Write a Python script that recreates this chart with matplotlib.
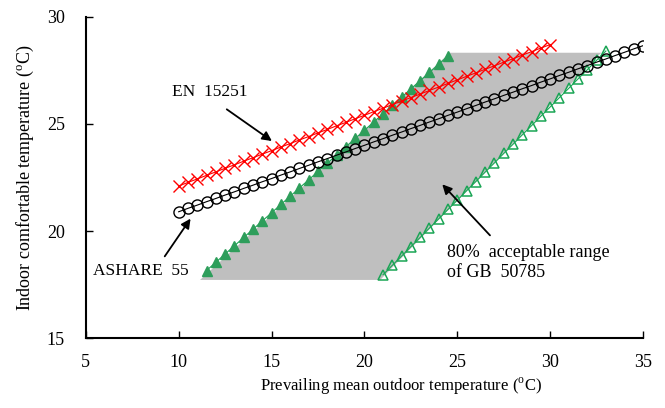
import matplotlib
matplotlib.use('Agg')
import matplotlib.pyplot as plt
from matplotlib.patches import Polygon

plt.rcParams['font.family'] = ['Liberation Serif', 'DejaVu Serif']
plt.rcParams['mathtext.fontset'] = 'custom'
plt.rcParams['mathtext.rm'] = 'Liberation Serif'

# ASHRAE 55 (open circles)
ashrae_x = [10, 10.5, 11, 11.5, 12, 12.5, 13, 13.5, 14, 14.5, 15, 15.5, 16, 16.5, 17, 17.5,
            18, 18.5, 19, 19.5, 20, 20.5, 21, 21.5, 22, 22.5, 23, 23.5, 24, 24.5, 25, 25.5,
            26, 26.5, 27, 27.5, 28, 28.5, 29, 29.5, 30, 30.5, 31, 31.5, 32, 32.5, 33, 33.5,
            34, 34.5, 35]
ashrae_y = [20.90, 21.06, 21.21, 21.37, 21.52, 21.68, 21.83, 21.99, 22.14, 22.30, 22.45, 22.61,
            22.76, 22.92, 23.07, 23.23, 23.38, 23.54, 23.69, 23.85, 24.00, 24.16, 24.31, 24.47,
            24.62, 24.78, 24.93, 25.09, 25.24, 25.40, 25.55, 25.71, 25.86, 26.02, 26.17, 26.33,
            26.48, 26.64, 26.79, 26.95, 27.10, 27.26, 27.41, 27.57, 27.72, 27.88, 28.03, 28.19,
            28.34, 28.50, 28.65]

# EN 15251 (red crosses)
en_x = [10, 10.5, 11, 11.5, 12, 12.5, 13, 13.5, 14, 14.5, 15, 15.5, 16, 16.5, 17, 17.5,
        18, 18.5, 19, 19.5, 20, 20.5, 21, 21.5, 22, 22.5, 23, 23.5, 24, 24.5, 25, 25.5,
        26, 26.5, 27, 27.5, 28, 28.5, 29, 29.5, 30]
en_y = [22.10, 22.27, 22.43, 22.60, 22.76, 22.93, 23.09, 23.26, 23.42, 23.59, 23.75, 23.92,
        24.08, 24.25, 24.41, 24.58, 24.74, 24.91, 25.07, 25.24, 25.40, 25.57, 25.73, 25.90,
        26.06, 26.23, 26.39, 26.56, 26.72, 26.89, 27.05, 27.22, 27.38, 27.55, 27.71, 27.88,
        28.04, 28.21, 28.37, 28.54, 28.70]

# GB 50785 limits
gb_up_x = [11.5, 12, 12.5, 13, 13.5, 14, 14.5, 15, 15.5, 16, 16.5, 17, 17.5, 18, 18.5,
           19, 19.5, 20, 20.5, 21, 21.5, 22, 22.5, 23, 23.5, 24, 24.5]
gb_up_y = [18.16, 18.54, 18.93, 19.31, 19.70, 20.08, 20.47, 20.85, 21.24, 21.62, 22.01, 22.39,
           22.78, 23.16, 23.55, 23.93, 24.32, 24.70, 25.09, 25.47, 25.86, 26.24, 26.63, 27.01,
           27.40, 27.78, 28.17]
gb_lo_x = [21, 21.5, 22, 22.5, 23, 23.5, 24, 24.5, 25, 25.5, 26, 26.5, 27, 27.5, 28, 28.5,
           29, 29.5, 30, 30.5, 31, 31.5, 32, 32.5, 33]
gb_lo_y = [17.96, 18.40, 18.83, 19.27, 19.70, 20.14, 20.57, 21.01, 21.44, 21.88, 22.31, 22.75,
           23.18, 23.62, 24.05, 24.49, 24.92, 25.36, 25.79, 26.23, 26.66, 27.10, 27.53, 27.97,
           28.40]

# shaded acceptable range corners
range_x = [11.15, 20.85, 32.75, 24.6]
range_y = [17.72, 17.72, 28.32, 28.32]

fig = plt.figure(figsize=(6.65, 4.08), dpi=100)
ax = fig.add_axes([0.129, 0.171, 0.838, 0.788])

ax.add_patch(Polygon(list(zip(range_x, range_y)), closed=True, facecolor='#bfbfbf',
                     edgecolor='none', zorder=1))

green = '#1aa555'
ax.plot(gb_up_x, gb_up_y, color=green, lw=0.8, marker='^', ms=7,
        mfc='#2e9e5b', mec='#2e9e5b', zorder=3)
ax.plot(gb_lo_x, gb_lo_y, color=green, lw=0.8, marker='^', ms=7,
        mfc='none', mec=green, mew=1.1, zorder=3)
ax.plot(en_x, en_y, color='red', lw=0.8, marker='x', ms=8.5, mew=1.0, zorder=4)
ax.plot(ashrae_x, ashrae_y, color='black', lw=0.8, marker='o', ms=8,
        mfc='none', mec='black', mew=1.0, zorder=4)

ax.set_xlim(5, 35)
ax.set_ylim(15, 30)
ax.set_xticks([5, 10, 15, 20, 25, 30, 35])
ax.set_yticks([15, 20, 25, 30])
ax.tick_params(direction='in', length=5, width=1, labelsize=13)
ax.tick_params(axis='x', pad=11)
ax.tick_params(axis='y', pad=15)
ax.spines['top'].set_visible(False)
ax.spines['right'].set_visible(False)
ax.spines['left'].set_linewidth(1.5)
ax.spines['bottom'].set_linewidth(1.5)

ax.set_xlabel(r'Prevailing mean outdoor temperature (${}^{\mathrm{o}}$C)', fontsize=12, labelpad=5)
ax.xaxis.set_label_coords(0.565, -0.115)
ax.set_ylabel(r'Indoor comfortable temperature (${}^{\mathrm{o}}$C)', fontsize=13, labelpad=8)

arrow = dict(arrowstyle='-|>', color='black', lw=1.3, mutation_scale=14, shrinkA=0, shrinkB=0)
ax.text(9.63, 26.49, 'EN  15251', fontsize=12.5, va='center', ha='left')
ax.annotate('', xy=(15.02, 24.2), xytext=(12.59, 25.68), arrowprops=arrow)
ax.text(5.38, 18.13, 'ASHARE  55', fontsize=12.5, va='center', ha='left')
ax.annotate('', xy=(10.64, 20.58), xytext=(9.25, 18.82), arrowprops=arrow)
ax.text(24.46, 18.55, '80%  acceptable range\nof GB  50785', fontsize=13,
        va='center', ha='left', linespacing=1.25)
ax.annotate('', xy=(24.19, 22.18), xytext=(26.76, 19.8), arrowprops=arrow)

fig.savefig('out.png', dpi=100)
